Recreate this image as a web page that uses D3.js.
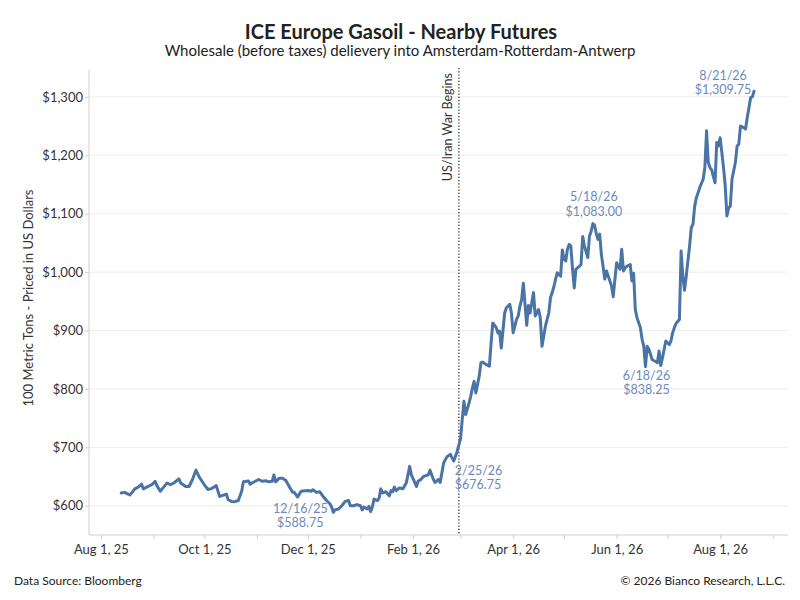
<!DOCTYPE html>
<head>
    <meta charset="utf-8">
    <title>ICE Europe Gasoil - Nearby Futures</title>
    <script src="https://cdn.jsdelivr.net/npm/d3@7"></script>
    <style>
     body { margin: 0; background: #fff; }
     text { font-family: Lato, "Open Sans", sans-serif; }
    </style>
</head>
<body>
    <div class="d3-viz"></div>

    <script type="text/javascript">

     // daily closes
     var dates = [
	 "2025-08-13","2025-08-15","2025-08-18","2025-08-20","2025-08-21","2025-08-23","2025-08-25","2025-08-26","2025-08-28","2025-08-31",
	 "2025-09-02","2025-09-03","2025-09-05","2025-09-07","2025-09-09","2025-09-11","2025-09-13","2025-09-16","2025-09-17","2025-09-20","2025-09-22","2025-09-24","2025-09-26","2025-09-28",
	 "2025-10-01","2025-10-03","2025-10-05","2025-10-08","2025-10-10","2025-10-11","2025-10-14","2025-10-15","2025-10-17","2025-10-19","2025-10-21","2025-10-23","2025-10-24","2025-10-27","2025-10-28","2025-10-29",
	 "2025-11-02","2025-11-04","2025-11-06","2025-11-08","2025-11-10","2025-11-11","2025-11-12","2025-11-14","2025-11-16","2025-11-18","2025-11-20","2025-11-22","2025-11-23","2025-11-25","2025-11-27",
	 "2025-12-01","2025-12-03","2025-12-04","2025-12-06","2025-12-08","2025-12-10","2025-12-12","2025-12-14","2025-12-15","2025-12-16","2025-12-17","2025-12-19","2025-12-21","2025-12-23","2025-12-25","2025-12-26","2025-12-28","2025-12-30",
	 "2026-01-01","2026-01-02","2026-01-03","2026-01-05","2026-01-06","2026-01-07","2026-01-08","2026-01-09","2026-01-11","2026-01-12","2026-01-13","2026-01-14","2026-01-16","2026-01-18","2026-01-19","2026-01-20","2026-01-21","2026-01-22","2026-01-24","2026-01-25","2026-01-26","2026-01-28","2026-01-29","2026-01-30","2026-01-31",
	 "2026-02-02","2026-02-03","2026-02-04","2026-02-06","2026-02-07","2026-02-09","2026-02-10","2026-02-11","2026-02-13","2026-02-14","2026-02-16","2026-02-17","2026-02-19","2026-02-20","2026-02-21","2026-02-23","2026-02-24","2026-02-25","2026-02-26","2026-02-27",
	 "2026-03-01","2026-03-02","2026-03-03","2026-03-04","2026-03-06","2026-03-07","2026-03-08","2026-03-09","2026-03-10","2026-03-12","2026-03-13","2026-03-14","2026-03-16","2026-03-18","2026-03-19","2026-03-20","2026-03-22","2026-03-23","2026-03-24","2026-03-25","2026-03-27","2026-03-28","2026-03-30","2026-03-31",
	 "2026-04-01","2026-04-03","2026-04-04","2026-04-05","2026-04-06","2026-04-07","2026-04-09","2026-04-10","2026-04-11","2026-04-12","2026-04-13","2026-04-14","2026-04-16","2026-04-17","2026-04-18","2026-04-19","2026-04-20","2026-04-22","2026-04-23","2026-04-24","2026-04-25","2026-04-26","2026-04-27","2026-04-29","2026-04-30",
	 "2026-05-01","2026-05-02","2026-05-03","2026-05-04","2026-05-05","2026-05-06","2026-05-07","2026-05-08","2026-05-10","2026-05-11","2026-05-12","2026-05-13","2026-05-15","2026-05-16","2026-05-17","2026-05-18","2026-05-19","2026-05-20","2026-05-21","2026-05-22","2026-05-23","2026-05-24","2026-05-25","2026-05-26","2026-05-28","2026-05-29","2026-05-30","2026-05-31",
	 "2026-06-01","2026-06-03","2026-06-04","2026-06-05","2026-06-06","2026-06-07","2026-06-09","2026-06-10","2026-06-11","2026-06-12","2026-06-13","2026-06-15","2026-06-16","2026-06-17","2026-06-18","2026-06-19","2026-06-20","2026-06-21","2026-06-22","2026-06-24","2026-06-25","2026-06-26","2026-06-27","2026-06-28","2026-06-29","2026-06-30",
	 "2026-07-02","2026-07-03","2026-07-04","2026-07-05","2026-07-06","2026-07-08","2026-07-09","2026-07-10","2026-07-11","2026-07-12","2026-07-13","2026-07-14","2026-07-15","2026-07-16","2026-07-17","2026-07-18","2026-07-19","2026-07-20","2026-07-22","2026-07-23","2026-07-24","2026-07-25","2026-07-26","2026-07-27","2026-07-29","2026-07-30","2026-07-31",
	 "2026-08-01","2026-08-02","2026-08-03","2026-08-04","2026-08-05","2026-08-06","2026-08-07","2026-08-08","2026-08-10","2026-08-11","2026-08-12","2026-08-13","2026-08-15","2026-08-16","2026-08-17","2026-08-18","2026-08-19","2026-08-20","2026-08-21"
     ];

     var prices = [
	 622,623,618.5,625,629,632,637,629,632,636,
	 642,634.5,625,632,639,636,639,646,639,633,633,645,661,649,
	 636,628,629,634.5,616,617,620,610.5,607.5,607,609,625,641,642.5,637,639,
	 645,642,643,641,642,653,641,647,647,643.5,633,623,623,615,625,
	 626,625,627.5,623,624,616,609,603.5,598,588.75,593,594.5,600,607.5,609,600,600,602,
	 600,593,598,594.5,599,590,598,611.5,609,613,629,622,624,617,626,624,632,626,630.5,630,629,639,653,667.5,653,
	 640,633,642,646,650,652,653,661,645,640,645,640,673,679,684,688,682,676.75,685,693,
	 715,748,779,756,776,787.5,802,813,793,822,845,846,842,839,879,913,905,896,899,870,930,939,945,930,
	 896,919,925,942,953,981,909,943,930,948,965,925,936,922,873,890,907.5,930,956,965,975,987.5,999,993,1038,
	 1022,1019,1039,1047.5,1045,1005,973,1005,1010,1013,1061,1045,1025,1062,1070,1083,1080,1066,1056,1065,1030,1010,988,1002,985,976,958,988,
	 1016,1005,1039,1002,1007.5,1010,1013,985,998,936,922,905,885,873,838.25,873,868,859,850,847,845,865,840,853,868,882,
	 876,882,896,905,912,919,1036,993,969,993,1019,1045,1076,1082,1113,1127.5,1136,1145,1159,1179,1242,1188,1179,1175,1153,1222,1216,
	 1230,1205,1179,1147.5,1096,1110,1113,1159,1188,1216,1219,1250,1247.5,1245,1265,1282,1299,1300,1309.75
     ];

     var yTicks = [600, 700, 800, 900, 1000, 1100, 1200, 1300];

     // labelled points
     var annoDates = ["2025-12-16", "2026-02-25", "2026-05-18", "2026-06-18", "2026-08-21"];
     var annoValues = [588.75, 676.75, 1083.00, 838.25, 1309.75];
     var annoLabels = [["12/16/25", "$588.75"], ["2/25/26", "$676.75"], ["5/18/26", "$1,083.00"],
		       ["6/18/26", "$838.25"], ["8/21/26", "$1,309.75"]];

     var warDate = "2026-02-28";
     var warLabel = "US/Iran War Begins";

     var width = 800;
     var height = 600;
     var pLeft = 89, pRight = 788, pTop = 70, pBottom = 535;

     var parse = d3.utcParse("%Y-%m-%d");
     var data = dates.map(function(d, i){ return {date: parse(d), value: prices[i]}; });

     var svg = d3.select(".d3-viz")
		 .append("svg")
		 .attr("width", width)
		 .attr("height", height);

     var x = d3.scaleUtc()
	       .domain([Date.UTC(2025, 6, 25), Date.UTC(2026, 8, 10)])
	       .range([pLeft, pRight]);

     var y = d3.scaleLinear()
	       .domain([550, 1346])
	       .range([pBottom, pTop]);

     // titles
     svg.append("text")
	.attr("x", 401).attr("y", 39)
	.attr("text-anchor", "middle")
	.style("font-size", "20px").style("font-weight", "bold").style("fill", "#222")
	.text("ICE Europe Gasoil - Nearby Futures");

     svg.append("text")
	.attr("x", 400).attr("y", 56)
	.attr("text-anchor", "middle")
	.style("font-size", "15px").style("fill", "#222")
	.text("Wholesale (before taxes) delievery into Amsterdam-Rotterdam-Antwerp");

     // grid
     svg.append("g")
	.selectAll("line")
	.data(yTicks)
	.enter()
	.append("line")
	.attr("x1", pLeft + 1).attr("x2", pRight)
	.attr("y1", function(d){ return y(d); })
	.attr("y2", function(d){ return y(d); })
	.style("stroke", "#ececec").style("stroke-width", 1);

     // y axis
     var yAxis = svg.append("g")
		    .attr("transform", "translate(" + pLeft + ",0)")
		    .call(d3.axisLeft(y).tickValues(yTicks).tickSize(4)
			    .tickFormat(function(d){ return "$" + d3.format(",")(d); }));
     yAxis.select(".domain").attr("d", "M0," + pTop + "V" + pBottom).style("stroke", "#cfcfcf");
     yAxis.selectAll(".tick line").style("stroke", "#cfcfcf");
     yAxis.selectAll(".tick text").attr("x", -6)
	  .style("font-size", "13px").style("fill", "#333").style("font-family", "Lato");

     svg.append("text")
	.attr("transform", "translate(33,298) rotate(-90)")
	.attr("text-anchor", "middle")
	.style("font-size", "13px").style("fill", "#333")
	.text("100 Metric Tons - Priced in US Dollars");

     // x axis, monthly ticks, label every other month
     var months = d3.utcMonth.range(Date.UTC(2025, 7, 1), Date.UTC(2026, 8, 2));
     var xAxis = svg.append("g")
		    .attr("transform", "translate(0," + pBottom + ")")
		    .call(d3.axisBottom(x).tickValues(months).tickSize(4)
			    .tickFormat(function(d, i){ return i % 2 == 0 ? d3.utcFormat("%b %-d, %y")(d) : ""; }));
     xAxis.select(".domain").attr("d", "M" + pLeft + ",0H" + pRight).style("stroke", "#cfcfcf");
     xAxis.selectAll(".tick line").style("stroke", "#cfcfcf");
     xAxis.selectAll(".tick text").attr("y", 10)
	  .style("font-size", "13px").style("fill", "#333").style("font-family", "Lato");

     // event marker
     var wx = x(parse(warDate));
     svg.append("line")
	.attr("x1", wx).attr("x2", wx)
	.attr("y1", pTop - 2).attr("y2", pBottom)
	.style("stroke", "#111").style("stroke-width", 1.2)
	.style("stroke-dasharray", "1.2,2");

     svg.append("text")
	.attr("transform", "translate(" + (wx - 7) + "," + (pTop + 3) + ") rotate(-90)")
	.attr("text-anchor", "end")
	.style("font-size", "12.5px").style("fill", "#333")
	.text(warLabel);

     // price line
     var line = d3.line()
		  .x(function(d){ return x(d.date); })
		  .y(function(d){ return y(d.value); });

     svg.append("path")
	.datum(data)
	.attr("d", line)
	.style("fill", "none")
	.style("stroke", "#4a74a5")
	.style("stroke-width", 3)
	.style("stroke-linejoin", "round")
	.style("stroke-linecap", "round");

     // point labels
     var annoOffsets = [[-33, -4, "middle"], [1, 9.5, "start"], [1, -27, "middle"], [1, 9, "middle"], [-31, -16, "middle"]];
     annoDates.forEach(function(d, i){
	 var px = x(parse(d)) + annoOffsets[i][0];
	 var py = y(annoValues[i]) + annoOffsets[i][1];
	 var t = svg.append("text")
		    .attr("x", px).attr("y", py)
		    .attr("text-anchor", annoOffsets[i][2])
		    .style("font-size", "12.5px").style("fill", "#6a8bbb");
	 annoLabels[i].forEach(function(s, j){
	     t.append("tspan").attr("x", px).attr("y", py + j * 14.5).attr("dy", "0.35em").text(s);
	 });
     });

     // footer
     svg.append("text")
	.attr("x", 14).attr("y", 585)
	.style("font-size", "12px").style("fill", "#222")
	.text("Data Source: Bloomberg");

     svg.append("text")
	.attr("x", 785).attr("y", 585)
	.attr("text-anchor", "end")
	.style("font-size", "12px").style("fill", "#222")
	.text("\u00a9 2026 Bianco Research, L.L.C.");

    </script>
</body>
